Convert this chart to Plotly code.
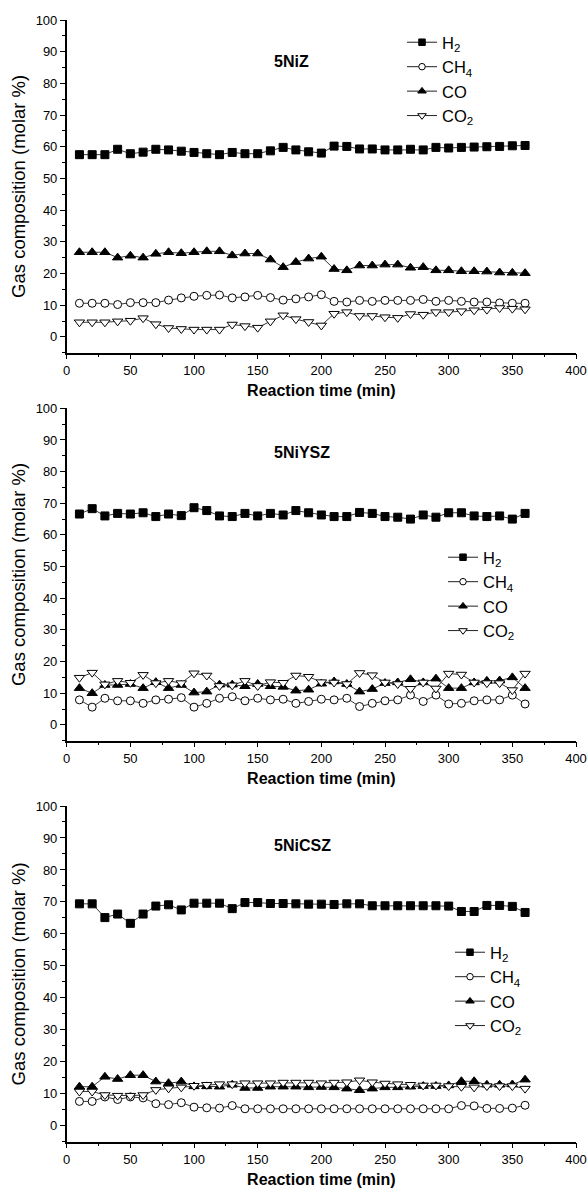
import plotly.graph_objects as go

# ---------------- data ----------------
time_min = [10, 20, 30, 40, 50, 60, 70, 80, 90, 100, 110, 120, 130, 140, 150, 160, 170, 180,
            190, 200, 210, 220, 230, 240, 250, 260, 270, 280, 290, 300, 310, 320, 330, 340, 350, 360]

panel_titles = ["5NiZ", "5NiYSZ", "5NiCSZ"]
series_names = ["H<sub>2</sub>", "CH<sub>4</sub>", "CO", "CO<sub>2</sub>"]

# 5NiZ
h2_niz = [57.5, 57.5, 57.5, 59.2, 57.8, 58.3, 59.2, 59.0, 58.6, 58.2, 57.8, 57.5, 58.2, 57.8, 57.8, 58.7, 59.8, 59.0,
          58.4, 58.0, 60.2, 60.1, 59.3, 59.3, 59.0, 59.0, 59.2, 59.0, 59.8, 59.6, 59.8, 59.9, 60.0, 60.1, 60.3, 60.4]
ch4_niz = [10.6, 10.6, 10.6, 10.2, 10.8, 10.8, 10.8, 11.6, 12.3, 12.8, 13.1, 13.2, 12.3, 12.6, 13.1, 12.4, 11.6, 12.0,
           12.6, 13.3, 11.2, 11.0, 11.5, 11.2, 11.5, 11.5, 11.5, 11.8, 11.2, 11.5, 11.2, 11.0, 11.0, 10.7, 10.6, 10.6]
co_niz = [26.7, 26.7, 26.7, 25.0, 25.6, 25.0, 26.2, 26.7, 26.4, 26.7, 27.0, 27.0, 25.7, 26.3, 26.3, 24.4, 22.0, 23.6,
          24.7, 25.3, 21.4, 21.0, 22.5, 22.5, 22.8, 22.8, 21.8, 22.0, 21.0, 21.0, 20.7, 20.7, 20.6, 20.3, 20.2, 20.1]
co2_niz = [4.6, 4.6, 4.6, 4.9, 5.1, 5.9, 4.0, 2.8, 2.5, 2.3, 2.3, 2.3, 3.9, 3.4, 2.9, 4.9, 6.8, 5.6,
           4.7, 3.6, 7.3, 7.8, 6.6, 6.6, 6.2, 6.0, 7.2, 7.0, 7.8, 7.8, 8.1, 8.4, 8.6, 9.1, 8.9, 8.7]

# 5NiYSZ
h2_ysz = [66.6, 68.3, 66.0, 66.8, 66.6, 67.0, 65.8, 66.6, 66.1, 68.6, 67.7, 66.0, 65.8, 66.8, 66.0, 66.8, 66.3, 67.7,
          67.0, 66.3, 65.8, 65.8, 67.1, 66.8, 65.8, 65.6, 65.0, 66.3, 65.6, 67.0, 67.0, 66.0, 65.8, 66.0, 65.0, 66.8]
ch4_ysz = [7.9, 5.6, 8.4, 7.6, 7.6, 6.8, 7.9, 8.1, 8.6, 5.6, 6.8, 8.4, 8.9, 7.6, 8.4, 7.9, 8.1, 6.8,
           7.4, 8.1, 7.9, 8.4, 5.8, 6.8, 7.6, 7.9, 9.4, 7.4, 9.4, 6.6, 6.8, 7.6, 7.9, 7.9, 9.4, 6.6]
co_ysz = [11.6, 10.0, 12.6, 12.6, 12.9, 11.6, 13.5, 11.6, 12.6, 10.2, 10.5, 12.7, 12.7, 12.2, 12.9, 12.2, 12.0, 10.8,
          11.1, 13.0, 13.7, 12.9, 10.5, 11.3, 13.2, 13.4, 14.4, 13.4, 14.6, 11.6, 11.6, 13.4, 13.9, 14.0, 15.0, 11.6]
co2_ysz = [14.9, 16.5, 12.8, 13.9, 13.3, 15.8, 13.2, 13.9, 13.2, 16.3, 15.6, 12.3, 12.5, 13.9, 12.3, 13.5, 13.3, 15.6,
           15.2, 13.5, 13.4, 12.9, 16.4, 15.7, 13.4, 12.9, 11.4, 13.4, 11.5, 16.2, 15.9, 13.4, 13.2, 13.2, 11.0, 16.2]

# 5NiCSZ
h2_csz = [69.4, 69.4, 65.1, 66.2, 63.3, 66.2, 68.7, 69.1, 67.5, 69.6, 69.6, 69.6, 67.9, 69.8, 69.8, 69.5, 69.5, 69.4,
          69.3, 69.3, 69.2, 69.4, 69.4, 68.8, 68.8, 68.8, 68.8, 68.8, 68.8, 68.7, 67.0, 67.0, 68.9, 68.9, 68.6, 66.7]
ch4_csz = [7.6, 7.6, 9.0, 8.2, 9.0, 8.7, 6.9, 6.6, 7.2, 5.8, 5.6, 5.5, 6.3, 5.3, 5.3, 5.3, 5.3, 5.3,
           5.3, 5.3, 5.3, 5.3, 5.3, 5.3, 5.3, 5.3, 5.3, 5.3, 5.3, 5.3, 6.3, 6.2, 5.4, 5.4, 5.5, 6.4]
co_csz = [12.2, 12.2, 15.3, 14.6, 15.8, 15.8, 13.8, 13.3, 13.8, 12.3, 12.3, 12.2, 12.8, 11.8, 11.8, 12.2, 12.2, 12.2,
          12.0, 12.1, 12.0, 11.6, 11.1, 11.6, 12.0, 12.0, 12.2, 12.4, 12.4, 12.6, 13.9, 13.9, 12.8, 12.8, 12.9, 14.4]
co2_csz = [10.7, 10.7, 9.6, 9.4, 9.4, 9.6, 11.2, 11.7, 12.0, 12.5, 12.8, 13.0, 13.0, 13.3, 13.3, 13.3, 13.5, 13.5,
           13.5, 13.3, 13.5, 13.6, 14.2, 13.6, 13.2, 13.0, 12.8, 12.6, 12.6, 12.4, 12.2, 12.0, 12.4, 12.4, 12.4, 11.6]

panels = [
    [h2_niz, ch4_niz, co_niz, co2_niz],
    [h2_ysz, ch4_ysz, co_ysz, co2_ysz],
    [h2_csz, ch4_csz, co_csz, co2_csz],
]

# ---------------- styling ----------------
W, H = 587, 1196
FONT = "Liberation Sans, Arial, sans-serif"
x_left, x_right = 66.7, 576.0
panel_px = [(20.0, 352.7), (408.3, 740.7), (806.0, 1141.7)]       # (top, bottom) pixel rows
legend_px = [(402, 25), (443, 540), (450, 935)]                   # legend left/top pixels
title_pos = [(161, 87), (161, 86), (161, 87.5)]

symbols = ["square", "circle", "triangle-up", "triangle-down"]
fills = ["black", "white", "black", "white"]
data_sizes = [8, 8, 9, 9]
legend_sizes = [6.5, 6.5, 7.5, 7.5]

fig = go.Figure()
layout = dict(
    width=W, height=H,
    margin=dict(l=0, r=0, t=0, b=0),
    paper_bgcolor="white", plot_bgcolor="white",
    font=dict(family=FONT, color="black"),
    annotations=[],
)

for p in range(3):
    sfx = "" if p == 0 else str(p + 1)
    leg = "legend" + sfx
    for s in range(4):
        fig.add_trace(go.Scatter(
            x=time_min, y=panels[p][s], name=series_names[s],
            mode="lines+markers",
            line=dict(color="#222222", width=0.9),
            marker=dict(symbol=symbols[s], color=fills[s], size=data_sizes[s],
                        line=dict(color="black", width=1)),
            xaxis="x" + sfx, yaxis="y" + sfx,
            legend=leg, showlegend=False, legendgroup="g%d%d" % (p, s),
        ))
        # legend entry (smaller symbol, as in the original key)
        fig.add_trace(go.Scatter(
            x=[None], y=[None], name=series_names[s],
            mode="lines+markers",
            line=dict(color="#222222", width=1),
            marker=dict(symbol=symbols[s], color=fills[s], size=legend_sizes[s],
                        line=dict(color="black", width=1)),
            xaxis="x" + sfx, yaxis="y" + sfx,
            legend=leg, showlegend=True, legendgroup="g%d%d" % (p, s),
        ))
    top, bot = panel_px[p]
    layout["xaxis" + sfx] = dict(
        domain=[x_left / W, x_right / W], anchor="y" + sfx,
        range=[0, 400], tickmode="linear", tick0=0, dtick=50,
        showline=True, linecolor="black", linewidth=1.5,
        ticks="outside", ticklen=5, tickwidth=1.2, tickcolor="black",
        minor=dict(ticks="outside", ticklen=3, dtick=25, tickcolor="black", tickwidth=1),
        showgrid=False, zeroline=False,
        tickfont=dict(size=13, family=FONT),
        title=dict(text="<b>Reaction time (min)</b>", font=dict(size=16, family=FONT), standoff=8),
        automargin=False,
    )
    layout["yaxis" + sfx] = dict(
        domain=[1 - bot / H, 1 - top / H], anchor="x" + sfx,
        range=[-5, 100], tickmode="array", tickvals=[0, 10, 20, 30, 40, 50, 60, 70, 80, 90, 100],
        showline=True, linecolor="black", linewidth=1.5,
        ticks="outside", ticklen=5, tickwidth=1.2, tickcolor="black",
        minor=dict(ticks="outside", ticklen=3, tickvals=[-5, 5, 15, 25, 35, 45, 55, 65, 75, 85, 95],
                   tickcolor="black", tickwidth=1),
        showgrid=False, zeroline=False,
        tickfont=dict(size=13, family=FONT),
        title=dict(text="Gas composition (molar %)", font=dict(size=18.5, family=FONT), standoff=5),
        automargin=False,
    )
    lx, ly = legend_px[p]
    layout[leg] = dict(
        x=lx / W, y=1 - ly / H, xanchor="left", yanchor="top",
        xref="paper", yref="paper",
        bgcolor="rgba(0,0,0,0)", borderwidth=0,
        font=dict(size=16.5, family=FONT),
        tracegroupgap=0,
    )
    tx, ty = title_pos[p]
    layout["annotations"].append(dict(
        x=tx, y=ty, xref="x" + sfx, yref="y" + sfx,
        text="<b>%s</b>" % panel_titles[p], showarrow=False,
        xanchor="left", yanchor="middle", font=dict(size=16, family=FONT),
    ))

fig.update_layout(**layout)
fig.write_html("out.html")
